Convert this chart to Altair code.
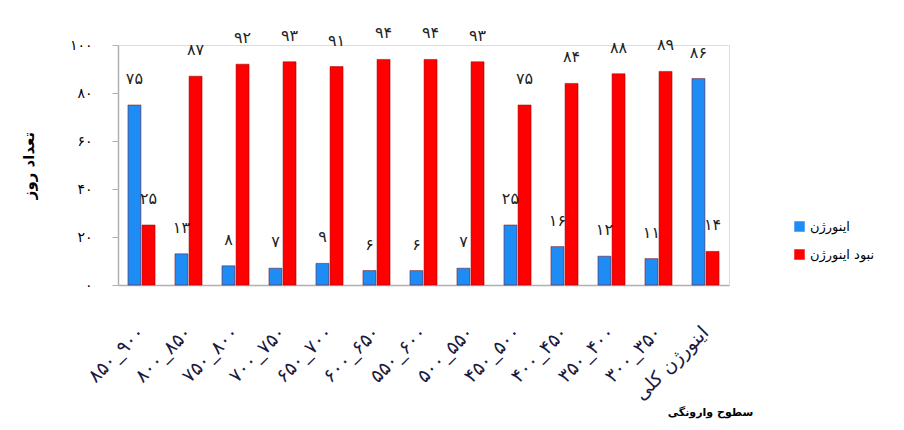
import altair as alt
import pandas as pd

categories = ["۸۵۰_۹۰۰", "۸۰۰_۸۵۰", "۷۵۰_۸۰۰", "۷۰۰_۷۵۰", "۶۵۰_۷۰۰", "۶۰۰_۶۵۰",
              "۵۵۰_۶۰۰", "۵۰۰_۵۵۰", "۴۵۰_۵۰۰", "۴۰۰_۴۵۰", "۳۵۰_۴۰۰", "۳۰۰_۳۵۰",
              "اینورژن کلی"]
inversion = [75, 13, 8, 7, 9, 6, 6, 7, 25, 16, 12, 11, 86]
no_inversion = [25, 87, 92, 93, 91, 94, 94, 93, 75, 84, 88, 89, 14]
series_names = ["اینورژن", "نبود اینورژن"]
y_ticks = [0, 20, 40, 60, 80, 100]

fa = str.maketrans("0123456789", "۰۱۲۳۴۵۶۷۸۹")

rows = []
for c, a, b in zip(categories, inversion, no_inversion):
    rows.append({"cat": c, "series": series_names[0], "value": a, "label": str(a).translate(fa)})
    rows.append({"cat": c, "series": series_names[1], "value": b, "label": str(b).translate(fa)})
df = pd.DataFrame(rows)

tick_map = "{" + ",".join(f"'{t}':'{str(t).translate(fa)}'" for t in y_ticks) + "}"

x_enc = alt.X("cat:N", sort=categories,
              scale=alt.Scale(paddingInner=0.4, paddingOuter=0.2),
              axis=alt.Axis(title="سطوح وارونگی", labelAngle=-45, labelAlign="right",
                            labelBaseline="middle", labelPadding=44, labelFontSize=19,
                            labelFont="DejaVu Sans", labelColor="#1a1a40",
                            ticks=False, domainColor="#b0b0b0", domainWidth=1.5,
                            titleFontSize=11, titleFontWeight="bold", titleFont="DejaVu Sans",
                            titleX=592, titleY=121, titleAnchor="middle", titleAngle=0))
y_enc = alt.Y("value:Q", scale=alt.Scale(domain=[0, 100], nice=False),
              axis=alt.Axis(title="تعداد روز", values=y_ticks, grid=False,
                            labelExpr=f"{tick_map}[datum.label]", labelFontSize=14,
                            labelFont="DejaVu Sans", labelPadding=20, tickSize=6,
                            tickColor="#b0b0b0", domainColor="#b0b0b0", domainWidth=1.5,
                            titleFontSize=15, titleFontWeight="bold", titleFont="DejaVu Sans",
                            titleX=-90, titleY=120, titleAngle=270, titleAlign="center",
                            titleBaseline="middle"))
color_enc = alt.Color("series:N", sort=series_names,
                      scale=alt.Scale(domain=series_names, range=["#1E8CF5", "#FF0000"]),
                      legend=alt.Legend(title=None, orient="none", legendX=675, legendY=175,
                                        symbolType="square", symbolSize=110, symbolStrokeWidth=0,
                                        labelFontSize=13, labelFont="DejaVu Sans",
                                        rowPadding=14))

bars = alt.Chart(df).mark_bar(size=13, stroke="#8a0000", strokeWidth=0.5).encode(
    x=x_enc,
    xOffset=alt.XOffset("series:N", sort=series_names),
    y=y_enc,
    color=color_enc,
)

labels = alt.Chart(df).mark_text(dy=-26, fontSize=16, font="DejaVu Sans", color="#222",
                                 baseline="middle").encode(
    x=alt.X("cat:N", sort=categories),
    xOffset=alt.XOffset("series:N", sort=series_names),
    y="value:Q",
    text="label:N",
)

chart = alt.layer(bars, labels).properties(
    width=611, height=240,
    autosize=alt.AutoSizeParams(type="none"),
    padding={"left": 110, "top": 37, "right": 167, "bottom": 137},
).configure_view(stroke=None).configure(background="white")

chart.save("out.html", embed_options={"renderer": "svg", "actions": False})
